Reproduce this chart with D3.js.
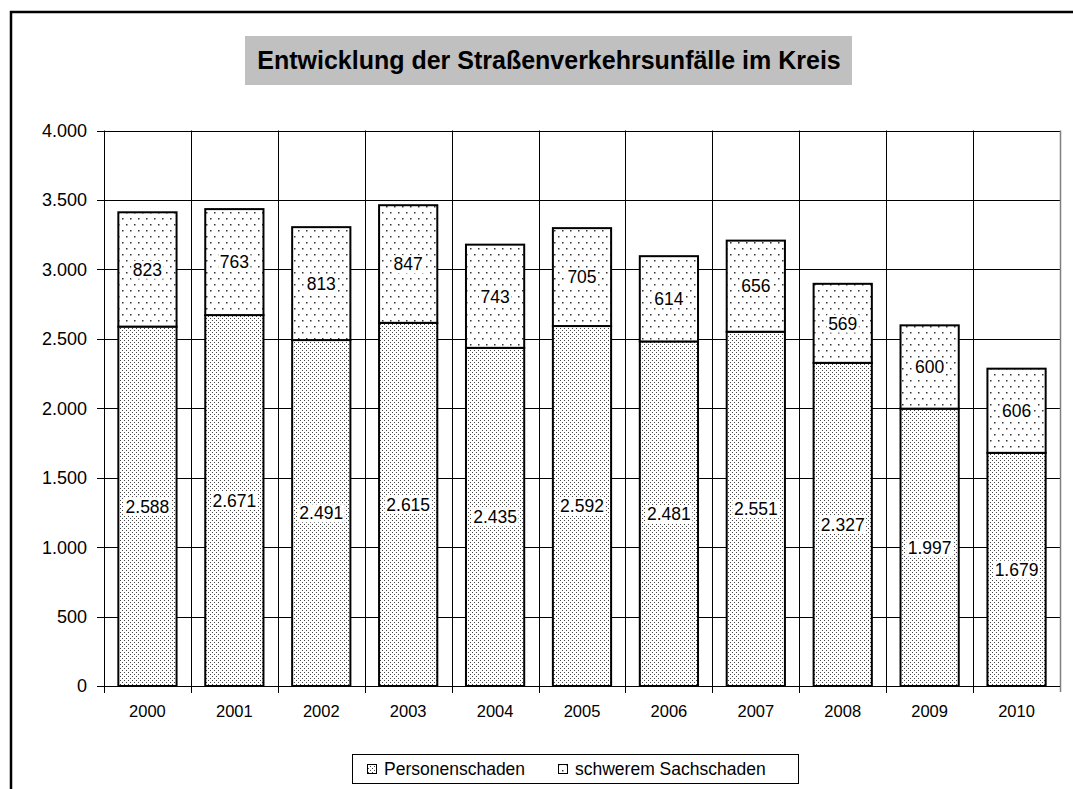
<!DOCTYPE html>
<html><head><meta charset="utf-8">
<script src="https://cdn.jsdelivr.net/npm/d3@7"></script>
<style>body{margin:0;background:#fff} svg{display:block;font-family:Arial,"Liberation Sans",sans-serif}</style>
</head><body><svg id="c" width="1073" height="789"></svg>
<script>
const titleText = "Entwicklung der Straßenverkehrsunfälle im Kreis";
const years = ["2000","2001","2002","2003","2004","2005","2006","2007","2008","2009","2010"];
const personenschaden = [2588,2671,2491,2615,2435,2592,2481,2551,2327,1997,1679];
const sachschaden = [823,763,813,847,743,705,614,656,569,600,606];
const yTicks = [0,500,1000,1500,2000,2500,3000,3500,4000];
const seriesNames = ["Personenschaden","schwerem Sachschaden"];

const svg = d3.select("#c");
const L = 104, R = 1060, T = 130.5, B = 686;
const de = d3.formatLocale({decimal:",", thousands:".", grouping:[3], currency:["","€"]});
const fmt = de.format(",d");

// patterns
const defs = svg.append("defs");
const p1 = defs.append("pattern").attr("id","pDense").attr("patternUnits","userSpaceOnUse").attr("width",4).attr("height",4);
p1.append("rect").attr("width",4).attr("height",4).attr("fill","#fff");
p1.append("rect").attr("x",0).attr("y",0).attr("width",1).attr("height",1).attr("fill","#444");
p1.append("rect").attr("x",2).attr("y",2).attr("width",1).attr("height",1).attr("fill","#444");
const p2 = defs.append("pattern").attr("id","pSparse").attr("patternUnits","userSpaceOnUse").attr("width",8).attr("height",12);
p2.append("rect").attr("width",8).attr("height",12).attr("fill","#fff");
p2.append("rect").attr("x",2).attr("y",2).attr("width",1.5).attr("height",1.5).attr("fill","#333");
p2.append("rect").attr("x",6).attr("y",8).attr("width",1.5).attr("height",1.5).attr("fill","#333");
const fills = ["url(#pDense)","url(#pSparse)"];

// outer frame
svg.append("path").attr("d","M11,789 V12 H1073").attr("fill","none").attr("stroke","#000").attr("stroke-width",2.5);

// title
svg.append("rect").attr("x",245).attr("y",36).attr("width",607).attr("height",49).attr("fill","#c0c0c0");
svg.append("text").attr("x",549).attr("y",68.5).attr("text-anchor","middle")
  .attr("font-weight","bold").attr("font-size",25).attr("fill","#000").text(titleText);

const x = d3.scaleBand().domain(years).range([L,R]).paddingInner(0.33).paddingOuter(0.165);
const xb = d3.scaleLinear().domain([0, years.length]).range([L,R]);
const y = d3.scaleLinear().domain([0,4000]).range([B,T]);

// gridlines
const g = svg.append("g");
g.selectAll("line.h").data(yTicks.filter(d=>d>0)).join("line")
  .attr("x1",L).attr("x2",R).attr("y1",d=>Math.round(y(d))+0.5).attr("y2",d=>Math.round(y(d))+0.5)
  .attr("stroke","#000").attr("stroke-width",1);
g.selectAll("line.v").data(d3.range(1, years.length)).join("line")
  .attr("x1",d=>Math.round(xb(d))+0.5).attr("x2",d=>Math.round(xb(d))+0.5)
  .attr("y1",T).attr("y2",B).attr("stroke","#000").attr("stroke-width",1);
g.append("line").attr("x1",R+0.5).attr("x2",R+0.5).attr("y1",T).attr("y2",B+6).attr("stroke","#808080").attr("stroke-width",1.5);

// stacked bars
const stackData = years.map((yr,i)=>({year:yr, p:personenschaden[i], s:sachschaden[i]}));
const stack = d3.stack().keys(["p","s"])(stackData);
const bars = svg.append("g");
stack.forEach((layer,li)=>{
  bars.selectAll(null).data(layer).join("rect")
    .attr("x",d=>x(d.data.year)).attr("width",x.bandwidth())
    .attr("y",d=>y(d[1])).attr("height",d=>y(d[0])-y(d[1]))
    .attr("fill",fills[li]).attr("stroke","#000").attr("stroke-width",2);
});

// axes
const ax = svg.append("g");
ax.append("line").attr("x1",L+0.5).attr("x2",L+0.5).attr("y1",T).attr("y2",B).attr("stroke","#000");
ax.append("line").attr("x1",L).attr("x2",R).attr("y1",B+0.5).attr("y2",B+0.5).attr("stroke","#000");
ax.selectAll("line.yt").data(yTicks).join("line")
  .attr("x1",L-7).attr("x2",L).attr("y1",d=>Math.round(y(d))+0.5).attr("y2",d=>Math.round(y(d))+0.5).attr("stroke","#000");
ax.selectAll("line.xt").data(d3.range(0, years.length)).join("line")
  .attr("x1",d=>Math.round(xb(d))+0.5).attr("x2",d=>Math.round(xb(d))+0.5).attr("y1",B).attr("y2",B+7).attr("stroke","#000");
ax.selectAll("text.yl").data(yTicks).join("text")
  .attr("x",87).attr("y",d=>y(d)).attr("dy","0.36em").attr("text-anchor","end")
  .attr("font-size",18).attr("fill","#000").text(d=>fmt(d));
ax.selectAll("text.xl").data(years).join("text")
  .attr("x",d=>x(d)+x.bandwidth()/2).attr("y",717).attr("text-anchor","middle")
  .attr("font-size",16.5).attr("fill","#000").text(d=>d);

// data labels
const lab = svg.append("g");
stack.forEach((layer)=>{
  layer.forEach(d=>{
    const cx = x(d.data.year)+x.bandwidth()/2, cy = (y(d[0])+y(d[1]))/2;
    const gg = lab.append("g");
    const r = gg.append("rect").attr("fill","#fff");
    const t = gg.append("text").attr("x",cx).attr("y",cy).attr("dy","0.36em").attr("text-anchor","middle")
      .attr("font-size",17.5).attr("fill","#000").text(fmt(d[1]-d[0]));
    const bb = t.node().getBBox();
    r.attr("x",bb.x-1.5).attr("y",bb.y+1).attr("width",bb.width+3).attr("height",bb.height-2);
  });
});

// legend
const lg = svg.append("g");
lg.append("rect").attr("x",352.5).attr("y",754.5).attr("width",446).attr("height",29).attr("fill","#fff").attr("stroke","#000");
const lx = [367, 558];
seriesNames.forEach((n,i)=>{
  lg.append("rect").attr("x",lx[i]+0.5).attr("y",764.5).attr("width",9).attr("height",9).attr("fill",fills[i]).attr("stroke","#000");
  lg.append("text").attr("x",lx[i]+17).attr("y",774.5).attr("font-size",17.5).attr("fill","#000").text(n);
});
</script></body></html>
